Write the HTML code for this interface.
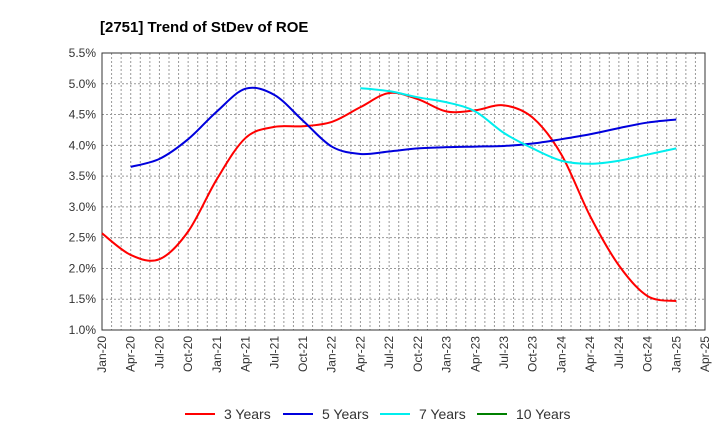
<!DOCTYPE html>
<html><head><meta charset="utf-8"><style>
body{margin:0;background:#fff;font-family:"Liberation Sans",sans-serif}
svg{display:block}
</style></head><body>
<svg id="c" width="720" height="440">
<text x="100" y="32" font-size="15" font-weight="bold" fill="#000">[2751]  Trend of StDev of ROE</text>
<g id="grid"></g><g id="axes"></g><g id="series"></g><g id="legend"></g>
</svg>
<script>
const xLabels=["Jan-20","Apr-20","Jul-20","Oct-20","Jan-21","Apr-21","Jul-21","Oct-21","Jan-22","Apr-22","Jul-22","Oct-22","Jan-23","Apr-23","Jul-23","Oct-23","Jan-24","Apr-24","Jul-24","Oct-24","Jan-25","Apr-25"];
const yTicks=[1.0,1.5,2.0,2.5,3.0,3.5,4.0,4.5,5.0,5.5];
const s3=[2.57,2.22,2.15,2.6,3.45,4.12,4.3,4.31,4.38,4.62,4.85,4.75,4.55,4.57,4.65,4.45,3.85,2.85,2.05,1.55,1.47];
const s5=[null,3.65,3.78,4.1,4.55,4.92,4.82,4.4,3.98,3.86,3.9,3.95,3.97,3.98,3.99,4.03,4.1,4.18,4.28,4.37,4.42];
const s7=[null,null,null,null,null,null,null,null,null,4.93,4.88,4.78,4.7,4.55,4.2,3.95,3.75,3.7,3.75,3.85,3.95];
const s10=[];
const L=102,R=705,T=53,B=330,NS="http://www.w3.org/2000/svg";
const xs=i=>L+(R-L)*i/(xLabels.length-1);
const ys=v=>B-(v-1.0)/(5.5-1.0)*(B-T);
function mk(tag,attrs,parent){const e=document.createElementNS(NS,tag);for(const k in attrs)e.setAttribute(k,attrs[k]);parent.appendChild(e);return e;}
const grid=document.getElementById('grid'),axes=document.getElementById('axes'),ser=document.getElementById('series'),leg=document.getElementById('legend');
for(let m=1;m<(xLabels.length-1)*3;m++){const x=L+(R-L)*m/((xLabels.length-1)*3);
const l=mk('line',{x1:x,x2:x,y1:T,y2:B,stroke:'#999','stroke-dasharray':'2,2','stroke-width':1},grid);

}
yTicks.forEach(v=>{const y=ys(v);
const l=mk('line',{x1:L,x2:R,y1:y,y2:y,stroke:'#999','stroke-dasharray':'2,2','stroke-width':1},grid);


const t=mk('text',{x:L-6,y:y+4,'text-anchor':'end','font-size':12,fill:'#333'},axes);t.textContent=v.toFixed(1)+'%';

});
xLabels.forEach((lab,i)=>{const x=xs(i);
const t=mk('text',{x:0,y:0,'text-anchor':'end','font-size':12,fill:'#333',transform:`translate(${x+4},${B+6}) rotate(-90)`},axes);t.textContent=lab;

});
const fr=mk('rect',{x:L,y:T,width:R-L,height:B-T,fill:'none',stroke:'#333','stroke-width':1},axes);


function path(arr){const p=[];arr.forEach((v,i)=>{if(v!=null)p.push([xs(i),ys(v)]);});if(!p.length)return '';
let d=`M${p[0][0]},${p[0][1]}`;
for(let i=0;i<p.length-1;i++){const p0=p[i-1]||p[i],p1=p[i],p2=p[i+1],p3=p[i+2]||p2;
d+=` C${p1[0]+(p2[0]-p0[0])/6},${p1[1]+(p2[1]-p0[1])/6} ${p2[0]-(p3[0]-p1[0])/6},${p2[1]-(p3[1]-p1[1])/6} ${p2[0]},${p2[1]}`;}
return d;}
const series=[[s3,'#ff0000','3 Years','series-3-years'],[s5,'#0000dd','5 Years','series-5-years'],[s7,'#00eeee','7 Years','series-7-years'],[s10,'#008000','10 Years','series-10-years']];
series.forEach(([arr,col,name,dn],k)=>{const d=path(arr);
if(d){const p=mk('path',{d:d,fill:'none',stroke:col,'stroke-width':2},ser);

}
const lx=[185,283,380,477][k];
const g=mk('g',{},leg);


mk('line',{x1:lx,x2:lx+30,y1:414,y2:414,stroke:col,'stroke-width':2},g);
const t=mk('text',{x:lx+39,y:419,'font-size':14,fill:'#333'},g);t.textContent=name;});
</script>
</body></html>
